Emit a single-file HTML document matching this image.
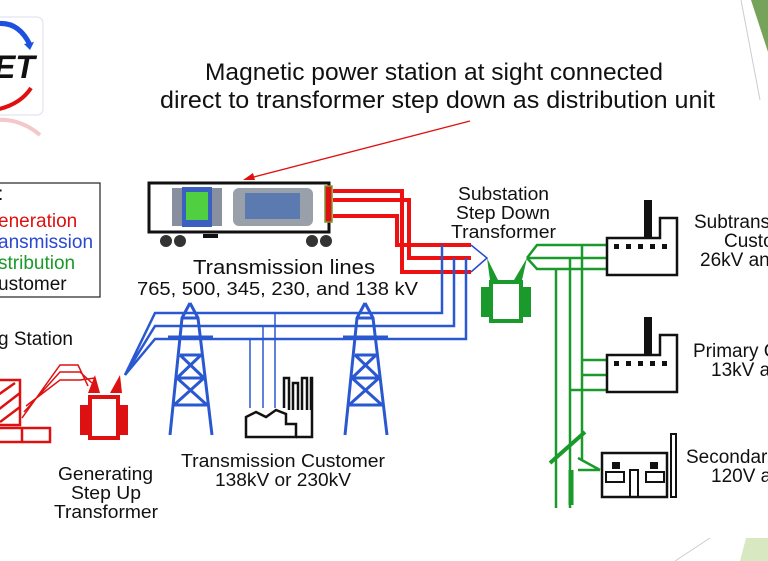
<!DOCTYPE html>
<html><head><meta charset="utf-8"><style>
html,body{margin:0;padding:0;background:#fff;width:768px;height:561px;overflow:hidden}
svg{display:block}
text{font-family:"Liberation Sans",sans-serif}
</style></head><body>
<svg width="768" height="561" viewBox="0 0 768 561" xmlns="http://www.w3.org/2000/svg">
<polygon points="751,0 768,0 768,52" fill="#76a35a"/>
<line x1="741" y1="0" x2="760" y2="100" stroke="#ccc" stroke-width="1"/>
<polygon points="746,538 768,538 768,561 740,561" fill="#d8e8c0"/>
<line x1="675" y1="561" x2="710" y2="538" stroke="#ccc" stroke-width="1"/>

<rect x="-10" y="17" width="53" height="98" rx="6" fill="#fff" stroke="#dde" stroke-width="1"/>
<path d="M-5,24 Q18,20 30,45" fill="none" stroke="#1e50e0" stroke-width="5"/>
<polygon points="24,44 34,42 30,50" fill="#1e50e0"/>
<text x="-6" y="78" font-size="32" font-weight="bold" font-style="italic" fill="#111">ET</text>
<path d="M-5,110 Q20,105 31,88" fill="none" stroke="#e01010" stroke-width="4"/>
<path d="M-5,120 Q20,118 40,135" fill="none" stroke="#f4c8c8" stroke-width="4"/>

<text x="205" y="80" font-size="24" fill="#111" font-family="DejaVu Sans, sans-serif" textLength="458" lengthAdjust="spacingAndGlyphs">Magnetic power station at sight connected</text>
<text x="160" y="108" font-size="24" fill="#111" font-family="DejaVu Sans, sans-serif" textLength="555" lengthAdjust="spacingAndGlyphs">direct to transformer step down as distribution unit</text>
<line x1="470" y1="121" x2="250" y2="178" stroke="#e01010" stroke-width="1.3"/>
<polygon points="243,180 253,173 255,180" fill="#e01010"/>

<rect x="-5" y="183" width="105" height="114" fill="#fff" stroke="#222" stroke-width="1.2"/>
<g font-size="19">
<text x="-2" y="200" fill="#111">:</text>
<text x="-2" y="227" fill="#e01010">eneration</text>
<text x="-2" y="248" fill="#2a48d0">ansmission</text>
<text x="-2" y="269" fill="#1a9a2a">stribution</text>
<text x="-2" y="290" fill="#111">ustomer</text>
<text x="-2" y="345" fill="#111">g Station</text>
</g>

<rect x="149" y="183" width="180" height="49" fill="#fff" stroke="#111" stroke-width="3"/>
<rect x="172" y="188" width="50" height="38" fill="#8890a0"/>
<rect x="182" y="187" width="30" height="40" fill="#3a60c0"/>
<rect x="186" y="192" width="22" height="28" fill="#50d040"/>
<rect x="233" y="188" width="80" height="38" rx="6" fill="#9aa0aa"/>
<rect x="245" y="193" width="55" height="26" fill="#5a7ab0"/>
<rect x="325" y="186" width="7" height="36" fill="#e01010" stroke="#7a9a30" stroke-width="1.5"/>
<circle cx="166" cy="241" r="6" fill="#333"/><circle cx="180" cy="241" r="6" fill="#333"/>
<circle cx="312" cy="241" r="6" fill="#333"/><circle cx="326" cy="241" r="6" fill="#333"/>
<rect x="203" y="234" width="15" height="4" fill="#111"/>

<g fill="none" stroke="#ee1111" stroke-width="4">
<polyline points="333,191 402,191 402,272 471,272"/>
<polyline points="333,200 409,200 409,258 471,258"/>
<polyline points="333,216 397,216 397,245 471,245"/>
</g>
<g fill="none" stroke="#2a48d0" stroke-width="1.5">
<polyline points="471,245 487,258 471,272"/>
</g>

<g fill="none" stroke="#2a58d0" stroke-width="2.5">
<polyline points="442,245 442,313 155,313 125,375"/>
<polyline points="454,258 454,326 155,326 125,375"/>
<polyline points="466,258 466,339 155,339 125,375"/>
<line x1="250" y1="339" x2="250" y2="408" stroke-width="1.5"/>
<line x1="263" y1="326" x2="263" y2="408" stroke-width="1.5"/>
<line x1="275" y1="313" x2="275" y2="408" stroke-width="1.5"/>
</g>
<g fill="none" stroke="#2a58d0" stroke-width="3">
<path d="M190,303 L182,318 L170,435 M190,303 L198,318 L212,435 M182,318 L198,318 M180,355 L201,355 M177,378 L204,378 M174,405 L207,405 M180,355 L204,378 M201,355 L177,378 M177,378 L207,405 M204,378 L174,405 M168,337 L213,337"/>
<path d="M365,303 L357,318 L345,435 M365,303 L373,318 L387,435 M357,318 L373,318 M355,355 L376,355 M352,378 L379,378 M349,405 L382,405 M355,355 L379,378 M376,355 L352,378 M352,378 L382,405 M379,378 L349,405 M343,337 L388,337"/>
</g>
<g fill="none" stroke="#111" stroke-width="2.5">
<path d="M246,437 L246,417 L256,412 L266,417 L276,410 L286,414 L286,424 L296,424 L296,437 Z"/>
<path d="M284,408 L284,378 L289,378 L289,410 M293,410 L293,383 L298,383 L298,410 M302,410 L302,378 L307,378 L307,410 M311,410 L311,378 L312,378 L312,437 L296,437"/>
</g>

<g fill="none" stroke="#dd1111" stroke-width="2.5">
<rect x="-2" y="380" width="22" height="45"/>
<path d="M-2,395 L15,383 M-2,410 L20,393 M0,422 L20,407"/>
<rect x="-2" y="428" width="52" height="14"/>
<line x1="22" y1="428" x2="22" y2="442"/>
<path d="M22,418 L60,365 L78,365 L88,386 M24,412 L60,372 L80,372 L92,383 M26,406 L60,380 L80,380 L95,378" stroke-width="1.5"/>
</g>
<g fill="#dd1111">
<rect x="80" y="405" width="10" height="30"/>
<rect x="118" y="405" width="10" height="30"/>
<rect x="88" y="395" width="32" height="4"/>
<rect x="88" y="395" width="4" height="45"/>
<rect x="116" y="395" width="4" height="45"/>
<rect x="88" y="436" width="32" height="4"/>
<polygon points="88,393 95,375 100,393"/>
<polygon points="110,393 120,375 122,393"/>
</g>

<g fill="#1a9a2a">
<rect x="481" y="287" width="10" height="30"/>
<rect x="521" y="287" width="10" height="30"/>
<rect x="489" y="280" width="34" height="4"/>
<rect x="489" y="280" width="4" height="43"/>
<rect x="519" y="280" width="4" height="43"/>
<rect x="489" y="319" width="34" height="4"/>
<polygon points="487,258 490,280 498,280"/>
<polygon points="527,258 514,280 522,280"/>
</g>
<g fill="none" stroke="#1a9a2a" stroke-width="2.5">
<polyline points="527,258 537,245 606,245"/>
<polyline points="527,258 606,258"/>
<polyline points="527,258 537,269 606,269"/>
<line x1="556" y1="269" x2="556" y2="508"/>
<line x1="570" y1="258" x2="570" y2="508"/>
<line x1="582" y1="245" x2="582" y2="460"/>
<line x1="582" y1="360" x2="606" y2="360"/>
<line x1="582" y1="375" x2="606" y2="375"/>
<line x1="570" y1="390" x2="606" y2="390"/>
<line x1="550" y1="463" x2="585" y2="432" stroke-width="4"/>
<line x1="571" y1="505" x2="571" y2="470" stroke-width="5"/>
<path d="M578,458 L600,470 M578,470 L600,470"/>
</g>
<g fill="none" stroke="#111" stroke-width="2.5">
<path d="M607,238 L660,238 L660,218 L677,218 L677,275 L607,275 Z"/>
<path d="M607,355 L660,355 L660,335 L677,335 L677,392 L607,392 Z"/>
<rect x="602" y="453" width="65" height="44"/>
<rect x="606" y="472" width="18" height="10" stroke-width="2"/>
<rect x="646" y="472" width="18" height="10" stroke-width="2"/>
<rect x="630" y="470" width="8" height="27" stroke-width="2"/>
<rect x="671" y="434" width="5" height="63" stroke-width="2"/>
</g>
<rect x="644" y="200" width="8" height="38" fill="#111"/>
<rect x="644" y="317" width="8" height="38" fill="#111"/>
<g fill="#111">
<rect x="614" y="244" width="5" height="5"/><rect x="626" y="244" width="5" height="5"/><rect x="638" y="244" width="5" height="5"/><rect x="650" y="244" width="5" height="5"/><rect x="662" y="244" width="5" height="5"/>
<rect x="614" y="361" width="5" height="5"/><rect x="626" y="361" width="5" height="5"/><rect x="638" y="361" width="5" height="5"/><rect x="650" y="361" width="5" height="5"/><rect x="662" y="361" width="5" height="5"/>
<rect x="612" y="462" width="8" height="7"/><rect x="650" y="462" width="8" height="7"/>
</g>

<g fill="#111" font-size="19">
<text x="193" y="274" font-size="20" textLength="182" lengthAdjust="spacingAndGlyphs">Transmission lines</text>
<text x="137" y="295" font-size="18" textLength="281" lengthAdjust="spacingAndGlyphs">765, 500, 345, 230, and 138 kV</text>
<text x="458" y="200" font-size="18" textLength="91" lengthAdjust="spacingAndGlyphs">Substation</text>
<text x="456" y="219" font-size="18" textLength="94" lengthAdjust="spacingAndGlyphs">Step Down</text>
<text x="451" y="238" font-size="18" textLength="105" lengthAdjust="spacingAndGlyphs">Transformer</text>
<text x="58" y="480" font-size="18" textLength="95" lengthAdjust="spacingAndGlyphs">Generating</text>
<text x="71" y="499" font-size="18" textLength="70" lengthAdjust="spacingAndGlyphs">Step Up</text>
<text x="54" y="518" font-size="18" textLength="104" lengthAdjust="spacingAndGlyphs">Transformer</text>
<text x="181" y="467" font-size="18" textLength="204" lengthAdjust="spacingAndGlyphs">Transmission Customer</text>
<text x="215" y="486" font-size="18" textLength="136" lengthAdjust="spacingAndGlyphs">138kV or 230kV</text>
<text x="694" y="228">Subtrans</text>
<text x="724" y="247">Custo</text>
<text x="700" y="266">26kV an</text>
<text x="693" y="357">Primary C</text>
<text x="711" y="376">13kV a</text>
<text x="686" y="463">Secondar</text>
<text x="711" y="482">120V a</text>
</g>
</svg>
</body></html>
